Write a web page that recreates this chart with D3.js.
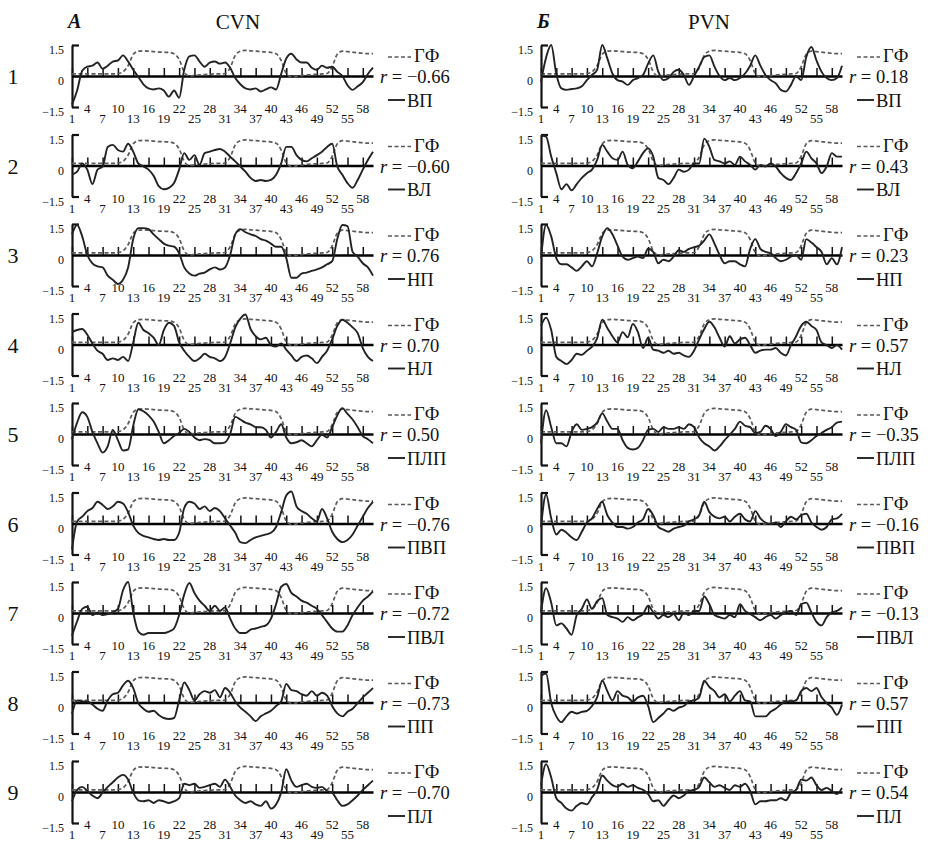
<!DOCTYPE html>
<html>
<head>
<meta charset="utf-8">
<script src="https://cdn.jsdelivr.net/npm/d3@7"></script>
<style>
  body { margin: 0; background: #fff; }
  svg { display: block; }
  text { font-family: "Liberation Serif", "Times New Roman", serif; fill: #111; }
</style>
</head>
<body>
<svg width="938" height="843"></svg>
<script>
// days of the cycle, tick labels
const days = d3.range(1, 61);
const xTicks = [1, 4, 7, 10, 13, 16, 19, 22, 25, 28, 31, 34, 37, 40, 43, 46, 49, 52, 55, 58];
const yTicks = [1.5, 0, -1.5];

const muscles = ["ВП", "ВЛ", "НП", "НЛ", "ПЛП", "ПВП", "ПВЛ", "ПП", "ПЛ"];
const rCVN = [-0.66, -0.60, 0.76, 0.70, 0.50, -0.76, -0.72, -0.73, -0.70];
const rPVN = [0.18, 0.43, 0.23, 0.57, -0.35, -0.16, -0.13, 0.57, 0.54];

// ГФ (dashed), same in every panel
const gf = [0.1,0.1,0.1,0.1,0.1,0.1,0.1,0.1,0.1,0.12, 0.2,0.5,1.05,1.2,1.22,1.2,1.18,1.16,1.15,1.14,
  1.08,0.8,0.2,0,0.02,0.05,0.07,0.08,0.1,0.1, 0.12,0.4,1.0,1.2,1.24,1.22,1.2,1.18,1.16,1.14,
  1.08,0.75,0.12,-0.04,-0.02,0.02,0.05,0.07,0.08,0.1, 0.12,0.45,1.05,1.2,1.18,1.15,1.12,1.1,1.08,1.08];

// CVN
const cvnVP = [-1.38,-0.7,0.25,0.45,0.5,0.65,0.35,0.5,0.7,0.75, 1.0,0.7,0.3,-0.05,-0.4,-0.6,-0.65,-0.6,-0.7,-1.0,
  -0.7,-1.05,0.3,0.95,1.0,0.7,0.45,0.65,0.7,0.6, 0.65,0.4,-0.1,-0.4,-0.6,-0.65,-0.6,-0.75,-0.65,-0.55,
  -0.65,0.1,0.85,1.08,0.8,0.65,0.65,0.4,0.3,0.5, 0.4,0.45,0.2,0,-0.45,-0.67,-0.5,-0.3,0.1,0.4];
const cvnVL = [-0.44,-0.3,0.1,-0.2,-0.9,-0.2,-0.05,0.9,1.0,0.75, 0.67,1.05,0.67,0.1,-0.05,-0.2,-0.5,-1.0,-1.15,-1.08,
  -0.85,-0.2,0.6,0.27,0.5,0.03,0.6,0.67,0.75,0.8, 0.67,0.43,0.2,-0.05,-0.3,-0.6,-0.75,-0.7,-0.75,-0.7,
  -0.45,0.1,0.9,0.9,0.5,0.27,0.2,0.35,0.5,0.67, 0.9,1.05,-0.05,-0.45,-0.85,-1.08,-0.7,-0.2,0.27,0.67];
const cvnNP = [1.0,1.45,0.9,0,-0.4,-0.55,-0.6,-1.0,-1.2,-1.4, -1.2,-0.6,0.77,1.3,1.3,1.25,1.0,0.77,0.55,0.45,
  0.4,0.08,-0.6,-0.9,-1.0,-0.9,-0.85,-0.7,-0.6,-0.7, -0.6,0,1.0,1.25,1.1,1.0,0.92,0.77,0.7,0.55,
  0.4,0.4,-0.15,-1.1,-1.1,-0.9,-0.85,-0.77,-0.7,-0.6, -0.45,-0.3,0.77,1.45,1.4,0.15,-0.08,-0.4,-0.6,-1.0];
const cvnNL = [0.6,0.7,0.75,0.47,0.05,-0.3,-0.45,-0.75,-0.67,-0.75, -0.6,-0.8,0.1,1.05,0.7,0.55,0.33,-0.03,0.7,1.05,
  0.9,0.1,-0.3,-0.6,-0.8,-0.67,-0.45,-0.6,-0.67,-0.8, -0.6,0.05,0.83,1.25,1.45,0.75,0.4,0.25,0.33,-0.03,
  -0.1,0.05,-0.25,-0.53,-0.8,-0.6,-0.53,-0.67,-0.9,-0.6, -0.3,0.25,0.9,1.2,1.05,0.83,0.55,-0.17,-0.6,-0.8];
const cvnPLP = [-0.25,0.55,1.05,0.83,0.1,-0.45,-0.9,-0.6,0.2,-0.3, -0.8,-0.75,0.4,1.2,1.1,0.9,0.6,0.1,-0.45,-0.3,
  -0.1,0.05,0.25,0.1,-0.17,-0.3,-0.25,-0.3,-0.45,-0.45, -0.4,0,0.83,0.7,0.55,0.47,0.33,0.33,0.2,-0.17,
  0.1,0.47,-0.17,-0.45,-0.4,-0.3,-0.45,-0.6,-0.3,-0.03, -0.17,0.33,0.9,1.25,0.97,0.7,0.33,-0.1,-0.25,-0.45];
const cvnPVP = [-1.25,0.1,0.33,0.6,0.75,1.05,0.9,0.7,0.83,1.05, 0.97,0.55,-0.1,-0.45,-0.6,-0.67,-0.75,-0.8,-0.75,-0.8,
  -0.8,-0.45,0.75,1.05,0.97,0.7,0.83,0.6,0.75,0.6, 0.25,-0.1,-0.45,-0.9,-0.95,-0.8,-0.67,-0.6,-0.53,-0.45,
  -0.17,0.55,1.35,1.55,0.83,0.6,0.47,0.25,0.1,0.7, 0.25,-0.4,-0.75,-0.9,-0.8,-0.53,-0.1,0.33,0.75,1.05];
const cvnPVL = [-1.1,-0.4,0.2,0.3,-0.1,0.03,-0.1,-0.05,0.03,0.2, 1.1,1.5,0.03,-0.9,-1.05,-0.97,-0.97,-0.97,-0.97,-0.9,
  -0.75,-0.1,0.9,1.45,0.97,0.6,0.35,0.1,0.35,0.1, 0.27,-0.27,-0.75,-0.97,-0.97,-0.8,-0.75,-0.67,-0.6,-0.27,
  0.42,1.27,1.4,0.97,0.8,0.6,0.5,0.35,0.2,-0.1, -0.43,-0.75,-0.9,-0.9,-0.6,-0.1,0.27,0.6,0.8,1.05];
const cvnPP = [-0.55,0.1,0.05,0.05,-0.1,-0.3,-0.4,0.1,0.4,0.47, 0.83,1.05,0.7,-0.03,-0.3,-0.45,-0.4,-0.6,-0.75,-0.8,
  -0.75,0.1,0.97,0.6,0.1,0.4,0.55,0.47,0.6,0.25, 0.7,0.47,0.05,-0.25,-0.45,-0.67,-0.9,-0.67,-0.53,-0.4,
  -0.17,0.05,0.9,0.6,0.55,0.4,0.33,0.55,0.33,0.47, 0.33,-0.17,-0.53,-0.67,-0.45,-0.3,-0.03,0.25,0.47,0.7];
const cvnPL = [-0.45,0.1,0.25,0.05,-0.17,-0.3,-0.03,0.25,0.47,0.7, 0.83,0.6,-0.03,-0.4,-0.45,-0.4,-0.53,-0.4,-0.45,-0.53,
  -0.45,-0.3,0.4,0.33,0.4,0.2,0.25,0.33,0.4,0.25, 0.6,0.25,-0.17,-0.4,-0.53,-0.45,-0.6,-0.67,-0.45,-0.8,
  -0.6,-0.03,1.1,0.55,0.25,0.33,0.4,0.25,0.2,0.25, 0.05,-0.03,-0.4,-0.67,-0.6,-0.4,-0.17,0.1,0.33,0.55];

// PVN
const pvnVP = [-0.27,0.9,1.5,0.1,-0.6,-0.67,-0.63,-0.6,-0.5,-0.2, 0.05,0.3,1.5,0.85,0.12,-0.2,-0.27,-0.43,-0.2,-0.1,
  0.05,0.6,1.0,0.2,-0.2,-0.1,0.2,0.3,0.05,-0.43, 0,0.45,0.92,1.0,0.45,0,-0.2,-0.1,-0.2,-0.1,
  0.12,0.5,1.0,0.5,0.05,-0.2,-0.35,-0.67,-0.75,-0.43, 0,-0.2,0.92,1.4,0.75,0.2,-0.1,-0.2,-0.1,0.5];
const pvnVL = [1.45,1.4,0.43,-0.37,-1.15,-0.9,-1.2,-0.9,-0.6,-0.37, -0.2,0.27,1.0,0.67,0.35,0.27,0.67,0.03,-0.13,0.2,
  0.6,0.83,0.43,-0.6,-0.7,-0.9,-0.6,-0.2,-0.3,-0.2, 0.1,0.1,1.3,0.9,0.27,0.2,0.1,0.2,0.03,0.43,
  0.2,0.03,-0.2,0.03,-0.05,0.1,-0.05,-0.37,-0.6,-0.7, -0.37,0.1,0.67,0.35,0.1,-0.37,-0.05,0.6,0.43,0.43];
const pvnNP = [-0.15,1.45,0.9,-0.15,-0.45,-0.45,-0.6,-0.77,-0.55,-0.3, -0.55,0.08,0.9,1.3,1.0,0.45,-0.08,-0.23,-0.15,-0.08,
  -0.15,0.3,0.15,-0.4,-0.23,-0.3,-0.08,0.23,0.15,0.3, 0.38,0.45,0.7,1.0,0.55,0,-0.4,-0.3,-0.3,-0.45,
  -0.55,0.3,0.77,0.3,0.15,0.08,-0.15,-0.3,-0.23,-0.08, 0,-0.23,0.77,0.6,0.38,0.15,-0.45,-0.15,-0.45,0.38];
const pvnNL = [0.9,1.3,0.7,-0.6,-0.8,-0.95,-0.75,-0.45,-0.5,-0.3, -0.1,0.3,1.2,0.8,0.4,0.1,0.6,0.35,1.0,0.6,
  -0.17,0.33,-0.25,-0.3,-0.4,-0.3,-0.45,-0.4,-0.53,-0.6, -0.3,0.25,0.75,1.1,0.83,0.33,-0.1,0.4,0.05,0.25,
  0.33,-0.03,-0.4,-0.3,-0.25,-0.25,-0.17,-0.4,-0.53,-0.03, 0.4,0.9,1.1,0.9,0.7,0.1,-0.03,-0.17,-0.03,-0.25];
const pvnPLP = [-0.45,1.15,0.33,-0.45,-0.45,-0.6,0.1,0.47,0.2,0.25, 0.33,0.55,1.0,0.6,0.25,0.25,-0.3,-0.67,-0.75,-0.67,
  -0.3,0.2,0.25,0.1,0.33,0.25,0.25,0.33,0.25,0.47, 0.33,-0.17,-0.45,-0.6,-0.8,-0.6,-0.3,-0.03,0.25,0.6,
  0.4,0.33,0.05,0.1,0.4,0.25,-0.1,0.1,0.47,0.33, 0.2,-0.4,-0.45,-0.3,-0.1,0.05,0.2,0.33,0.55,0.6];
const pvnPVP = [-0.17,1.4,0.25,-0.53,-0.3,-0.45,-0.67,-0.8,-0.4,0.05, 0.25,0.7,1.05,0.4,0.05,-0.17,-0.17,-0.25,-0.17,0.05,
  0.2,0.7,0.4,-0.17,-0.3,-0.4,-0.25,-0.17,-0.1,0.1, 0.2,0.4,1.05,0.55,0.33,0.25,0.33,0.1,0.33,0.47,
  0.2,0.1,0.6,0.25,0.05,-0.03,0.05,-0.17,0.1,0.33, 0.2,0.4,0.47,0.05,-0.17,-0.3,-0.17,0.2,0.25,0.47];
const pvnPVL = [0.03,1.2,0.5,-0.6,-0.5,-0.75,-1.05,-0.1,0.2,0.65, 0.2,0.57,0.72,-0.1,-0.2,-0.27,-0.43,-0.2,-0.35,-0.2,
  -0.05,0.35,0.03,-0.27,-0.1,-0.2,-0.05,-0.35,0.03,-0.1, 0.1,0.1,0.8,0.42,-0.1,-0.2,-0.27,-0.1,-0.2,0.42,
  0.1,-0.05,-0.2,-0.35,-0.2,-0.1,-0.27,-0.1,0.03,0.1, -0.1,0.42,0.5,0.03,-0.43,-0.6,-0.2,0.03,0.1,0.27];
const pvnPP = [1.3,1.4,-0.03,-0.67,-0.95,-0.67,-0.45,-0.53,-0.45,-0.4, -0.17,0.25,1.05,0.55,0.1,0.55,0.33,0.25,0.05,0.25,
  0.33,-0.17,-0.95,-0.75,-0.53,-0.3,-0.4,-0.25,-0.17,0.05, 0.1,0.25,1.05,0.75,0.55,0.25,0.4,0.05,0.33,0.55,
  0.1,0.05,-0.67,-0.67,-0.67,-0.45,-0.3,-0.1,0.05,0.05, 0.1,0.55,0.7,0.55,0.7,0.25,-0.03,-0.25,-0.6,-0.1];
const pvnPL = [0.33,1.35,0.7,-0.3,-0.53,-0.8,-0.9,-0.67,-0.53,-0.6, -0.25,0.1,0.8,0.55,0.33,0.25,0.4,0.25,0.33,0.2,
  0.1,-0.1,-0.45,-0.4,-0.67,-0.4,-0.17,-0.3,-0.17,0.05, 0.1,0.25,0.7,0.47,0.25,0.33,0.2,0.1,0.33,0.25,
  0.4,0.05,-0.6,-0.45,-0.45,-0.4,-0.4,-0.3,-0.4,-0.03, 0.1,0.6,0.55,0.7,0.33,0.1,0.2,0.05,-0.1,0.2];

const cvnSeries = [cvnVP, cvnVL, cvnNP, cvnNL, cvnPLP, cvnPVP, cvnPVL, cvnPP, cvnPL];
const pvnSeries = [pvnVP, pvnVL, pvnNP, pvnNL, pvnPLP, pvnPVP, pvnPVL, pvnPP, pvnPL];

var svg = d3.select("svg");
svg.append("rect").attr("width", 938).attr("height", 843).attr("fill", "#fff");

var columns = [
  { left: 72, title: "A", titleX: 68, name: "CVN", nameX: 238, r: rCVN, series: cvnSeries },
  { left: 541, title: "Б", titleX: 537, name: "PVN", nameX: 709, r: rPVN, series: pvnSeries }
];
var plotW = 301, rowStep = 89.5, firstZero = 76, half = 31;
var fmtR = v => d3.format(".2f")(v).replace("-", "\u2212");
var fmtY = v => v === 0 ? "0" : d3.format(".1f")(v).replace("-", "\u2212");

// row numbers
muscles.forEach((m, i) => {
  svg.append("text")
    .attr("x", 13).attr("y", firstZero + i * rowStep + 8)
    .attr("text-anchor", "middle").attr("font-size", 22)
    .text(i + 1);
});

columns.forEach(col => {
  svg.append("text")
    .attr("x", col.titleX).attr("y", 28)
    .attr("font-size", 20).attr("font-style", "italic").attr("font-weight", "bold")
    .text(col.title);
  svg.append("text")
    .attr("x", col.nameX).attr("y", 29)
    .attr("text-anchor", "middle").attr("font-size", 21)
    .text(col.name);

  col.series.forEach((vals, i) => {
    var zero = firstZero + i * rowStep;
    var x = d3.scaleLinear().domain([1, 60]).range([col.left, col.left + plotW]);
    var y = d3.scaleLinear().domain([-1.5, 1.5]).range([zero + half, zero - half]);
    var g = svg.append("g");

    // left bracket axis
    g.append("g")
      .attr("transform", "translate(" + col.left + ",0)")
      .call(d3.axisRight(y).tickValues([1.5, -1.5]).tickSize(7).tickSizeOuter(0).tickFormat(""))
      .call(a => a.selectAll("path,line").attr("stroke", "#111").attr("stroke-width", 2.2));

    // zero line with upward day ticks
    g.append("g")
      .attr("transform", "translate(0," + y(0) + ")")
      .call(d3.axisTop(x).tickValues(xTicks).tickSize(8).tickSizeOuter(0).tickFormat(""))
      .call(a => a.select("path").attr("stroke", "#000").attr("stroke-width", 2.4))
      .call(a => a.selectAll("line").attr("stroke", "#111").attr("stroke-width", 1.5));

    yTicks.forEach(t => {
      g.append("text")
        .attr("x", col.left - 8).attr("y", y(t) + 9)
        .attr("text-anchor", "end").attr("font-size", 12)
        .text(fmtY(t));
    });

    // staggered day labels
    xTicks.forEach((t, k) => {
      g.append("text")
        .attr("x", x(t)).attr("y", zero + (k % 2 ? 37 : 47))
        .attr("text-anchor", "middle").attr("font-size", 13)
        .text(t);
    });

    var line = d3.line()
      .x((d, j) => x(days[j]))
      .y(d => y(d))
      .curve(d3.curveMonotoneX);

    g.append("path").datum(gf)
      .attr("d", line).attr("fill", "none")
      .attr("stroke", "#5a5a5a").attr("stroke-width", 1.7)
      .attr("stroke-dasharray", "4,2.5");
    g.append("path").datum(vals)
      .attr("d", line).attr("fill", "none")
      .attr("stroke", "#222").attr("stroke-width", 1.9);

    // legend
    var lx = col.left + plotW + 15;
    g.append("line")
      .attr("x1", lx).attr("x2", lx + 23).attr("y1", zero - 19).attr("y2", zero - 19)
      .attr("stroke", "#5a5a5a").attr("stroke-width", 1.7).attr("stroke-dasharray", "4,2.5");
    g.append("text")
      .attr("x", lx + 26).attr("y", zero - 14).attr("font-size", 18.5)
      .text("ГФ");
    var rt = g.append("text")
      .attr("x", col.left + plotW + 7).attr("y", zero + 7).attr("font-size", 18.5);
    rt.append("tspan").attr("font-style", "italic").text("r");
    rt.append("tspan").text(" = " + fmtR(col.r[i]));
    g.append("line")
      .attr("x1", lx).attr("x2", lx + 17).attr("y1", zero + 24).attr("y2", zero + 24)
      .attr("stroke", "#222").attr("stroke-width", 1.9);
    g.append("text")
      .attr("x", lx + 19).attr("y", zero + 30.5).attr("font-size", 18.5)
      .text(muscles[i]);
  });
});
</script>
</body>
</html>
